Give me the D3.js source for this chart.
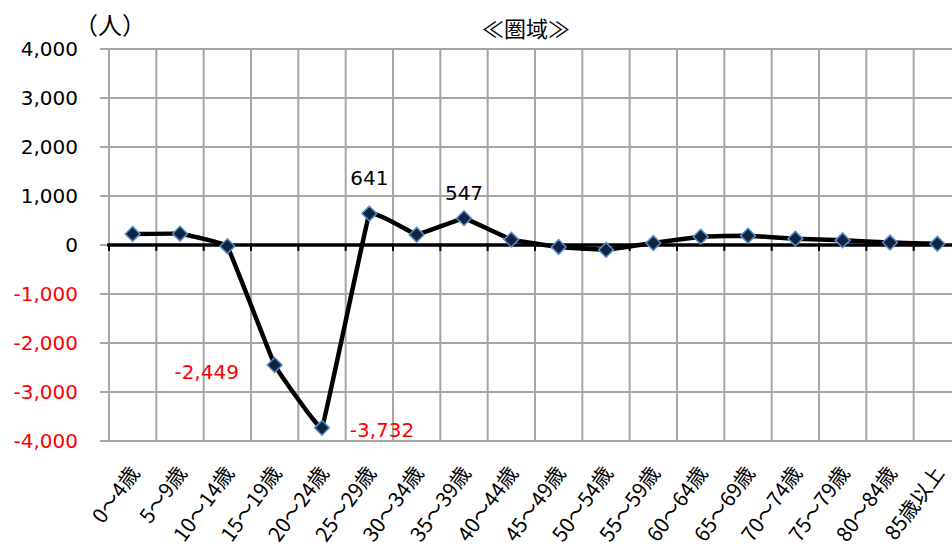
<!DOCTYPE html>
<html>
<head>
<meta charset="utf-8">
<script src="https://cdn.jsdelivr.net/npm/d3@7"></script>
<style>
  html, body { margin: 0; padding: 0; background: #fff; }
  svg { display: block; }
  text { font-family: "DejaVu Sans", "Noto Sans CJK JP", sans-serif; }
  text.cjk { font-family: "Noto Sans CJK JP", sans-serif; }
</style>
</head>
<body>
<svg id="chart" width="952" height="551"></svg>
<script>
// 年齢階級別 純移動数（圏域）
const categories = ["0～4歳", "5～9歳", "10～14歳", "15～19歳", "20～24歳", "25～29歳",
  "30～34歳", "35～39歳", "40～44歳", "45～49歳", "50～54歳", "55～59歳",
  "60～64歳", "65～69歳", "70～74歳", "75～79歳", "80～84歳", "85歳以上"];
const values = [225, 230, -25, -2449, -3732, 641, 210, 547, 110, -40, -100, 40,
  170, 190, 130, 95, 50, 25];
const yTicks = [-4000, -3000, -2000, -1000, 0, 1000, 2000, 3000, 4000];
// categories whose value is printed next to the marker
const labelled = ["15～19歳", "20～24歳", "25～29歳", "35～39歳"];

const svg = d3.select("#chart");
const plot = { left: 109, right: 961, top: 49, bottom: 441 };

const x = d3.scaleBand().domain(categories).range([plot.left, plot.right]);
const y = d3.scaleLinear().domain([-4000, 4000]).range([plot.bottom, plot.top]);
const fmt = d3.formatLocale({ decimal: ".", thousands: ",", grouping: [3], currency: ["", ""], minus: "-" }).format(",");
const red = "#ff0000";
const cx = c => x(c) + x.bandwidth() / 2;

// horizontal gridlines with outer y ticks
svg.append("g").selectAll("line").data(yTicks).join("line")
  .attr("x1", plot.left - 9).attr("x2", plot.right)
  .attr("y1", d => y(d)).attr("y2", d => y(d))
  .attr("stroke", "#a6a6a6").attr("stroke-width", 2);

// vertical gridlines at category boundaries
const bounds = categories.map(c => x(c)).concat([plot.right]);
svg.append("g").selectAll("line").data(bounds).join("line")
  .attr("x1", d => d).attr("x2", d => d)
  .attr("y1", plot.top).attr("y2", plot.bottom)
  .attr("stroke", "#a6a6a6").attr("stroke-width", 2);

// zero axis with small tick marks below it
const axisG = svg.append("g").attr("transform", `translate(0,${y(0)})`);
axisG.append("line").attr("x1", plot.left - 2).attr("x2", plot.right)
  .attr("stroke", "#000").attr("stroke-width", 3.5);
axisG.selectAll("line.tk").data(bounds).join("line").attr("class", "tk")
  .attr("x1", d => d).attr("x2", d => d).attr("y1", 0).attr("y2", 6)
  .attr("stroke", "#000").attr("stroke-width", 2);

// y axis labels
svg.append("g").selectAll("text").data(yTicks).join("text")
  .attr("x", 78).attr("y", d => y(d)).attr("dy", "0.36em")
  .attr("text-anchor", "end").attr("font-size", 20)
  .attr("fill", d => d < 0 ? red : "#000")
  .text(d => fmt(d));

// x axis labels, rotated
svg.append("g").selectAll("text").data(categories).join("text")
  .attr("class", "cjk")
  .attr("transform", d => `translate(${cx(d) + 2},${469}) rotate(-54)`)
  .attr("text-anchor", "end").attr("font-size", 20.5)
  .attr("dy", "0.35em")
  .text(d => d);

// unit and title
svg.append("text").attr("class", "cjk").attr("x", 110).attr("y", 34).attr("text-anchor", "middle")
  .attr("font-size", 24).text("（人）");
svg.append("text").attr("class", "cjk").attr("x", 526).attr("y", 37).attr("text-anchor", "middle")
  .attr("font-size", 22).text("≪圏域≫");

// smoothed line
const pts = categories.map((c, i) => [cx(c), y(values[i])]);
svg.append("path").datum(pts)
  .attr("d", d3.line().curve(d3.curveCardinal.tension(0.85)))
  .attr("fill", "none").attr("stroke", "#000").attr("stroke-width", 4.5)
  .attr("stroke-linejoin", "round");

// diamond markers
svg.append("g").selectAll("path").data(pts).join("path")
  .attr("d", d3.symbol(d3.symbolDiamond2, 140)())
  .attr("transform", d => `translate(${d[0]},${d[1]})`)
  .attr("fill", "#10243f").attr("stroke", "#5b8fcf").attr("stroke-width", 1.5);

// value labels
const labelPos = {
  "15～19歳": { dx: -68, dy: 7 },
  "20～24歳": { dx: 60, dy: 2 },
  "25～29歳": { dx: 0, dy: -36 },
  "35～39歳": { dx: 0, dy: -25 }
};
svg.append("g").selectAll("text").data(labelled).join("text")
  .attr("x", d => cx(d) + labelPos[d].dx)
  .attr("y", d => y(values[categories.indexOf(d)]) + labelPos[d].dy)
  .attr("dy", "0.36em")
  .attr("text-anchor", "middle")
  .attr("font-size", 20)
  .attr("fill", d => values[categories.indexOf(d)] < 0 ? red : "#000")
  .text(d => fmt(values[categories.indexOf(d)]));
</script>
</body>
</html>
